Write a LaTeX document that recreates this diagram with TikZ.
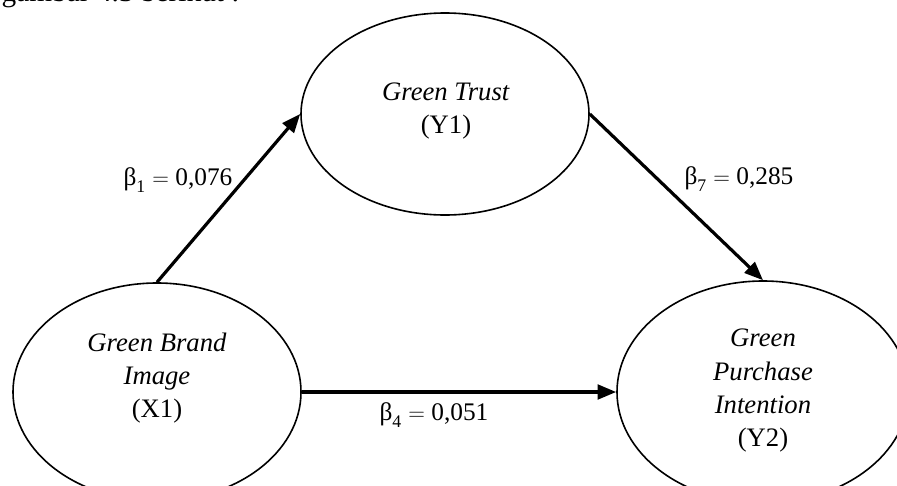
\documentclass[tikz,border=0pt]{standalone}
\usepackage{amsmath}
\usepackage{fontspec}
\setmainfont{Liberation Serif}
\usetikzlibrary{arrows.meta,shapes}

\begin{document}
\begin{tikzpicture}[x=0.75pt,y=-0.75pt,
        latent/.style={draw,ellipse,line width=1.2pt,inner sep=0pt},
        varname/.style={align=center,font=\fontsize{20}{25}\selectfont},
        effect/.style={line width=2.4pt,-{Triangle[length=14pt,width=11pt]}},
        coef/.style={font=\fontsize{19}{23}\selectfont}]
            \useasboundingbox (0,0) rectangle (897,486);
            \clip (0,0) rectangle (897,486);
            \node[anchor=base west,font=\fontsize{22}{26}\selectfont] (intro) at (-3,1) {gambar 4.3 berikut :};
            % variabel laten
            \node[latent,minimum width=216pt,minimum height=151.5pt] (gt) at (445,114) {};
            \node[latent,minimum width=216pt,minimum height=163.5pt] (gbi) at (157,392) {};
            \node[latent,minimum width=219pt,minimum height=166.5pt] (gpi) at (763,392) {};
            \node[varname] (gttext) at (446,111) {\textit{Green Trust}\\(Y1)};
            \node[varname] (gbitext) at (157,378) {\textit{Green Brand}\\\textit{Image}\\(X1)};
            \node[varname] (gpitext) at (763,391) {\textit{Green}\\\textit{Purchase}\\\textit{Intention}\\(Y2)};
            % jalur
            \draw[effect] (gbi.north)--(gt.west);
            \draw[effect] (gt.east)--(gpi.north);
            \draw[effect] (gbi.east)--(gpi.west);
            \node[coef] (b1) at (178,180) {\(\text{β}_{\text{1}} = \text{0,076}\)};
            \node[coef] (b7) at (739,179) {\(\text{β}_{\text{7}} = \text{0,285}\)};
            \node[coef] (b4) at (434,415) {\(\text{β}_{\text{4}} = \text{0,051}\)};
\end{tikzpicture}
\end{document}
